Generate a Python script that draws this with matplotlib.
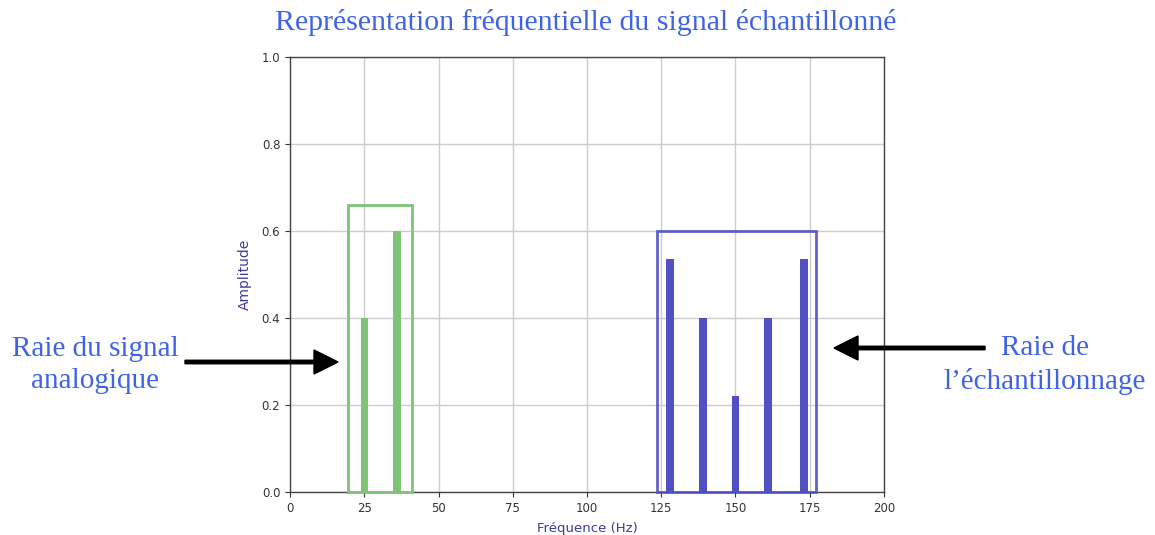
import matplotlib
matplotlib.use("Agg")
import matplotlib.pyplot as plt
from matplotlib.patches import Rectangle, FancyArrow

# Spectral lines of the analog signal
signal_freqs = [25, 36]
signal_amps = [0.40, 0.60]

# Spectral lines produced by sampling
sample_freqs = [128, 139, 150, 161, 173]
sample_amps = [0.535, 0.40, 0.22, 0.40, 0.535]

x_ticks = [0, 25, 50, 75, 100, 125, 150, 175, 200]
y_ticks = [0.0, 0.2, 0.4, 0.6, 0.8, 1.0]

title = "Représentation fréquentielle du signal échantillonné"
label_left = "Raie du signal\nanalogique"
label_right = "Raie de\nl\u2019échantillonnage"

green = "#7dc475"
blue = "#5050c4"
text_blue = "#3f63e6"
axis_blue = "#3b3b9e"

W, H = 1155, 535
fig = plt.figure(figsize=(W / 100, H / 100), dpi=100)
ax = fig.add_axes([290 / W, 1 - 492 / H, 594 / W, 435 / H])

ax.bar(signal_freqs, signal_amps, width=2.5, color=green, zorder=3)
ax.bar(sample_freqs, sample_amps, width=2.5, color=blue, zorder=3)

# Frames around each group of lines
ax.add_patch(Rectangle((19.5, 0), 21.5, 0.66, fill=False, edgecolor=green,
                       lw=2, zorder=4, clip_on=False))
ax.add_patch(Rectangle((123.5, 0), 53.6, 0.60, fill=False, edgecolor=blue,
                       lw=2, alpha=0.9, zorder=4, clip_on=False))

ax.set_xlim(0, 200)
ax.set_ylim(0, 1.0)
ax.set_xticks(x_ticks)
ax.set_yticks(y_ticks)
ax.set_yticklabels([f"{v:.1f}" for v in y_ticks])
ax.tick_params(labelsize=8.5, colors="#333333", length=3.5)
ax.grid(True, color="#cccccc", lw=1, zorder=0)
ax.set_axisbelow(True)
for s in ax.spines.values():
    s.set_color("#444444")
    s.set_linewidth(1)

ax.set_xlabel("Fréquence (Hz)", fontsize=9.5, color=axis_blue, labelpad=5)
ax.set_ylabel("Amplitude", fontsize=10, color=axis_blue, labelpad=7)

serif = ["Liberation Serif", "DejaVu Serif"]
fig.text(586 / W, 1 - 23 / H, title, ha="center", va="center",
         fontsize=21.5, color=text_blue, family=serif)
fig.text(95 / W, 1 - 365 / H, label_left, ha="center", va="center",
         fontsize=21, color=text_blue, family=serif, linespacing=1.35)
fig.text(1045 / W, 1 - 365 / H, label_right, ha="center", va="center",
         fontsize=21, color=text_blue, family=serif, linespacing=1.35)

# Hand-drawn style arrows pointing at each group
def arrow(x0, x1, y):
    fig.add_artist(FancyArrow(x0 / W, 1 - y / H, (x1 - x0) / W, 0,
                              width=3.5 / H, head_width=24 / H,
                              head_length=24 / W, length_includes_head=True,
                              color="black", transform=fig.transFigure,
                              clip_on=False))

arrow(185, 338, 362)
arrow(985, 834, 348)

fig.savefig("out.png", dpi=100)
